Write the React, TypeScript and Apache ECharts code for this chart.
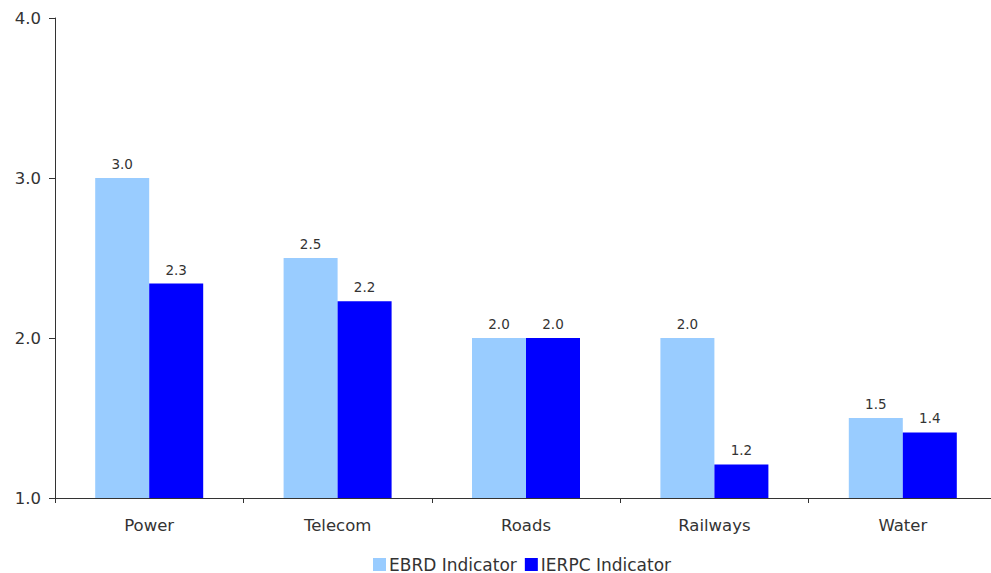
import React, { useEffect, useRef } from "react";
import * as echarts from "echarts";

const categories = ["Power", "Telecom", "Roads", "Railways", "Water"];
const ebrdValues = [3.0, 2.5, 2.0, 2.0, 1.5];
const ierpcValues = [2.34, 2.23, 2.0, 1.21, 1.41];
const seriesNames = ["EBRD Indicator", "IERPC Indicator"];

const FONT = "Verdana, 'DejaVu Sans', sans-serif";
const TEXT = "#333333";

export default function App() {
  const ref = useRef<HTMLDivElement>(null);

  useEffect(() => {
    document.body.style.margin = "0";
    document.body.style.overflow = "hidden";
    const chart = echarts.init(ref.current!, null, { renderer: "svg" });
    const labelStyle = {
      show: true,
      position: "top" as const,
      distance: 7,
      fontFamily: FONT,
      fontSize: 13.5,
      color: TEXT,
      formatter: (p: any) => Number(p.value).toFixed(1),
    };
    chart.setOption({
      animation: false,
      textStyle: { fontFamily: FONT },
      grid: { left: 55, right: 0, top: 18, bottom: 75, containLabel: false },
      legend: {
        data: seriesNames,
        left: 368,
        bottom: -5,
        itemWidth: 13,
        itemHeight: 13,
        itemGap: 8,
        icon: "rect",
        textStyle: { fontFamily: FONT, fontSize: 17, color: TEXT, padding: [0, 0, 0, -2] },
      },
      xAxis: {
        type: "category",
        data: categories,
        axisLine: { lineStyle: { color: "#333333", width: 1 } },
        axisTick: { show: true, length: 5, alignWithLabel: false, lineStyle: { color: "#333333" } },
        axisLabel: { fontFamily: FONT, fontSize: 16.5, color: TEXT, margin: 19 },
      },
      yAxis: {
        type: "value",
        min: 1,
        max: 4,
        interval: 1,
        splitLine: { show: false },
        axisLine: { show: true, lineStyle: { color: "#333333", width: 1 } },
        axisTick: { show: true, length: 6, lineStyle: { color: "#333333" } },
        axisLabel: {
          fontFamily: FONT,
          fontSize: 16.5,
          color: TEXT,
          margin: 14,
          formatter: (v: number) => v.toFixed(1),
        },
      },
      series: [
        {
          name: seriesNames[0],
          type: "bar",
          data: ebrdValues,
          barWidth: 54,
          barGap: "0%",
          itemStyle: { color: "#99CCFF" },
          label: labelStyle,
        },
        {
          name: seriesNames[1],
          type: "bar",
          data: ierpcValues,
          barWidth: 54,
          barGap: "0%",
          itemStyle: { color: "#0000FF" },
          label: labelStyle,
        },
      ],
    });
    return () => chart.dispose();
  }, []);

  return <div ref={ref} style={{ width: 997, height: 573 }} />;
}
